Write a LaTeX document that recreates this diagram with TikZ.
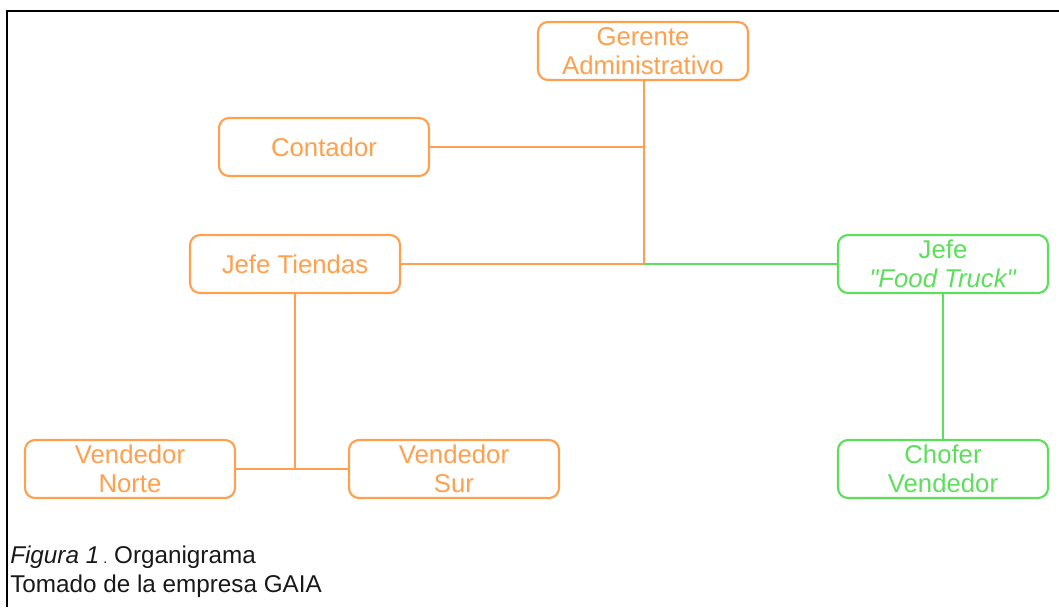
\documentclass[tikz,border=0pt]{standalone}
\usepackage{fontspec}
\setmainfont{Liberation Sans}[Ligatures=TeXOff]
\definecolor{org}{RGB}{255,160,78}
\definecolor{grn}{RGB}{92,224,92}
\begin{document}
\begin{tikzpicture}[x=0.75pt,y=-0.75pt,
  box/.style={draw=org,text=org,line width=1.6pt,rounded corners=7.5pt,
    minimum width=157.5pt,minimum height=43.5pt,inner sep=0pt,align=center,
    font=\fontsize{19.3}{21.8}\selectfont},
  gbox/.style={box,draw=grn,text=grn},
  oline/.style={draw=org,line width=1.6pt},
  gline/.style={draw=grn,line width=1.6pt}]
\useasboundingbox (0,0) rectangle (1059,607);
\fill[white] (0,0) rectangle (1059,607);
\draw[line width=1.5pt,black] (7,607) -- (7,11) -- (1059,11);

\node[box] (ger) at (643,51) {Gerente\\Administrativo};
\node[box] (con) at (324,147) {Contador};
\node[box] (jt) at (295,264) {Jefe Tiendas};
\node[gbox] (jf) at (943,264) {Jefe\\\textit{"Food Truck"}};
\node[box] (vn) at (130,469) {Vendedor\\Norte};
\node[box] (vs) at (454,469) {Vendedor\\Sur};
\node[gbox] (ch) at (943,469) {Chofer\\Vendedor};

\coordinate (hub) at (644,264);
\coordinate (mid) at (295,469);

\draw[oline] (ger.south -| hub) -- (hub);
\draw[oline] (con.east) -- (con.east -| hub);
\draw[oline] (jt.east) -- (hub);
\draw[gline] (hub) -- (jf.west);
\draw[oline] (jt.south) -- (mid);
\draw[oline] (vn.east) -- (vs.west);
\draw[gline] (jf.south) -- (ch.north);

\node[anchor=base west,inner sep=0pt,font=\fontsize{18.2}{21}\selectfont,text=black!90] (cap1) at (10,563)
  {\textit{Figura 1}\,{\fontsize{11}{12}\selectfont.}\ Organigrama};
\node[anchor=base west,inner sep=0pt,font=\fontsize{18.2}{21}\selectfont,text=black!90] (cap2) at (10,592)
  {Tomado de la empresa GAIA};
\end{tikzpicture}
\end{document}
